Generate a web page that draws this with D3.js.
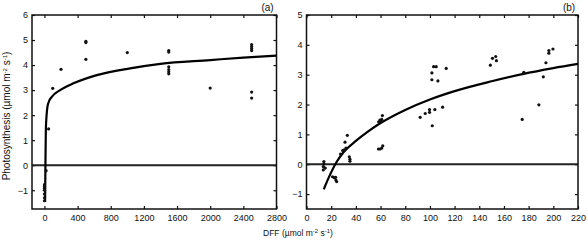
<!DOCTYPE html>
<html>
<head>
<meta charset="utf-8">
<script src="https://cdn.jsdelivr.net/npm/d3@7"></script>
<style>
  body { margin: 0; background: #fff; }
  svg text { font-family: "Liberation Sans", Arial, sans-serif; fill: #111; }
</style>
</head>
<body>
<div id="chart"></div>
<script>
// panel (a) : wide DFF range
const dffA = [0, 0, 0, 0, 0, 0, 0, 20, 50, 100, 200, 500, 500, 500, 1000,
  1500, 1500, 1500, 1500, 1500, 1500, 2000, 2500, 2500, 2500, 2500, 2500, 2500];
const photoA = [-0.78, -0.85, -0.92, -1.0, -1.15, -1.3, -1.42, -0.22, 1.45, 3.07, 3.83, 4.95, 4.9, 4.23, 4.5,
  4.58, 4.52, 3.93, 3.82, 3.73, 3.65, 3.08, 4.82, 4.74, 4.66, 4.58, 2.92, 2.68];
const fitXA = [8, 12, 17, 25, 36, 55, 89, 190, 350, 632, 1034, 1400, 2000, 2400, 2800];
const fitYA = [-1.47, 0, 1.4, 1.95, 2.33, 2.55, 2.73, 3.0, 3.27, 3.6, 3.87, 4.05, 4.2, 4.3, 4.38];
const ticksXA = [0, 400, 800, 1200, 1600, 2000, 2400, 2800];
const ticksYA = [-1, 0, 1, 2, 3, 4, 5, 6];

// panel (b) : low DFF range
const dffB = [14.1, 14.1, 13.6, 15.2, 13.6, 21.1, 22.5, 23.6, 23.8, 24.4,
  27.6, 29.3, 30.6, 31.2, 32, 33.1, 34.7, 35.2, 35.2,
  58.3, 59.6, 61, 61.8, 58.5, 59.5, 60, 61, 61.5,
  92.1, 96.2, 99.7, 99.7, 101.9, 104, 110.3,
  101.6, 101.6, 103, 105.1, 106.5, 113.2,
  149, 150.7, 153.3, 153.9, 174.8, 176.1, 188.3, 191.9, 194, 196.4, 196.4, 199.7];
const photoB = [0.09, 0.01, -0.08, -0.13, -0.19, -0.42, -0.45, -0.44, -0.53, -0.58,
  0.34, 0.46, 0.48, 0.74, 0.54, 0.97, 0.25, 0.17, 0.1,
  0.51, 0.51, 0.54, 0.62, 1.42, 1.48, 1.45, 1.5, 1.63,
  1.57, 1.7, 1.74, 1.83, 1.29, 1.83, 1.91,
  3.06, 2.83, 3.27, 3.27, 2.79, 3.21,
  3.32, 3.55, 3.61, 3.47, 1.5, 3.08, 1.99, 2.93, 3.4, 3.81, 3.72, 3.86];
const fitXB = [14, 18, 24, 30, 40, 50, 60, 80, 100, 120, 150, 175, 200, 220];
const fitYB = [-0.84, -0.45, 0.05, 0.4, 0.78, 1.1, 1.38, 1.82, 2.17, 2.45, 2.78, 3.02, 3.22, 3.36];
const ticksXB = [0, 20, 40, 60, 80, 100, 120, 140, 160, 180, 200, 220];
const ticksYB = [-1, 0, 1, 2, 3, 4, 5];

const width = 588, height = 244;
const svg = d3.select("#chart").append("svg")
  .attr("width", width).attr("height", height);

const plotTop = 15, plotBottom = 209;

const drawPanel = (cfg) => {
  const x = d3.scaleLinear().domain(cfg.xDomain).range([cfg.left, cfg.right]);
  const y = d3.scaleLinear().domain(cfg.yDomain).range([plotBottom, plotTop]);
  const g = svg.append("g");

  // inward ticks on all four sides
  const tl = 3;
  g.append("g").attr("transform", `translate(0,${plotBottom})`)
    .call(d3.axisBottom(x).tickValues(cfg.ticksX).tickSize(-tl).tickPadding(6).tickFormat(d3.format("d")))
    .call((a) => a.select(".domain").remove());
  g.append("g").attr("transform", `translate(0,${plotTop})`)
    .call(d3.axisTop(x).tickValues(cfg.ticksX).tickSize(-tl).tickFormat(""))
    .call((a) => a.select(".domain").remove());
  g.append("g").attr("transform", `translate(${cfg.left},0)`)
    .call(d3.axisLeft(y).tickValues(cfg.ticksY).tickSize(-tl).tickPadding(4).tickFormat(d3.format("d")))
    .call((a) => a.select(".domain").remove());
  g.append("g").attr("transform", `translate(${cfg.right},0)`)
    .call(d3.axisRight(y).tickValues(cfg.ticksY).tickSize(-tl).tickFormat(""))
    .call((a) => a.select(".domain").remove());
  g.selectAll(".tick line").attr("stroke", "#111").attr("stroke-width", 1.2);
  g.selectAll(".tick text").style("font-size", "9px").attr("fill", "#111");

  // zero line
  g.append("line")
    .attr("x1", cfg.left).attr("x2", cfg.right)
    .attr("y1", y(0)).attr("y2", y(0))
    .attr("stroke", "#222").attr("stroke-width", 2);

  // frame
  g.append("rect")
    .attr("x", cfg.left).attr("y", plotTop)
    .attr("width", cfg.right - cfg.left).attr("height", plotBottom - plotTop)
    .attr("fill", "none").attr("stroke", "#111").attr("stroke-width", 1.5);

  // fitted curve
  const line = d3.line()
    .x((d) => x(d[0]))
    .y((d) => y(d[1]))
    .curve(d3.curveMonotoneX);
  g.append("path")
    .datum(d3.zip(cfg.fitX, cfg.fitY))
    .attr("d", line)
    .attr("fill", "none").attr("stroke", "#000").attr("stroke-width", 2.2);

  // observations
  g.selectAll("circle.obs").data(d3.zip(cfg.dff, cfg.photo)).join("circle")
    .attr("class", "obs")
    .attr("cx", (d) => x(d[0]))
    .attr("cy", (d) => y(d[1]))
    .attr("r", 1.6)
    .attr("fill", "#111");

  g.append("text")
    .attr("x", cfg.right - 9).attr("y", 11)
    .attr("text-anchor", "middle")
    .style("font-size", "10px")
    .text(cfg.tag);
};

drawPanel({
  xDomain: [-150, 2800], yDomain: [-1.75, 6], left: 32, right: 276.5,
  ticksX: ticksXA, ticksY: ticksYA, fitX: fitXA, fitY: fitYA,
  dff: dffA, photo: photoA, tag: "(a)"
});
drawPanel({
  xDomain: [0, 220], yDomain: [-1.5, 5], left: 306.5, right: 578,
  ticksX: ticksXB, ticksY: ticksYB, fitX: fitXB, fitY: fitYB,
  dff: dffB, photo: photoB, tag: "(b)"
});

// axis titles with superscripts
const unitText = (t, pre) => {
  t.append("tspan").text(pre + " (\u00b5mol m");
  t.append("tspan").text("-2").attr("baseline-shift", "super").style("font-size", "6px");
  t.append("tspan").text(" s");
  t.append("tspan").text("-1").attr("baseline-shift", "super").style("font-size", "6px");
  t.append("tspan").text(")");
};

const yTitle = svg.append("text")
  .attr("transform", "translate(10,116) rotate(-90)")
  .attr("text-anchor", "middle")
  .style("font-size", "10px");
unitText(yTitle, "Photosynthesis");

const xTitle = svg.append("text")
  .attr("x", 298).attr("y", 236)
  .attr("text-anchor", "middle")
  .style("font-size", "8.5px");
unitText(xTitle, "DFF");
</script>
</body>
</html>
